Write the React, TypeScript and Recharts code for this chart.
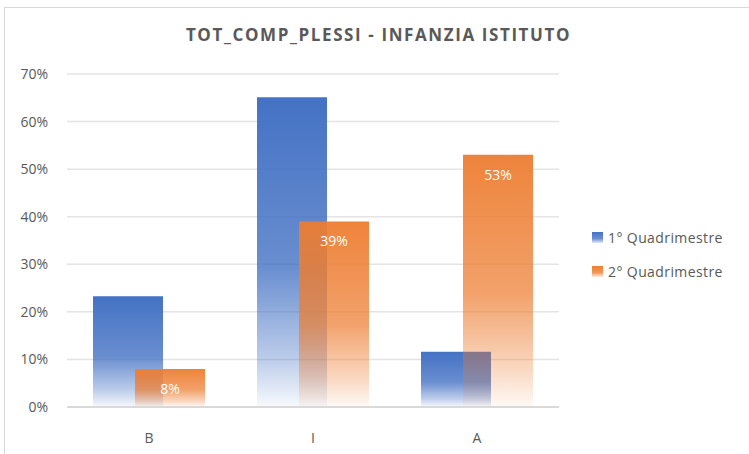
import React from "react";
import { BarChart, Bar, XAxis, YAxis, CartesianGrid, LabelList } from "recharts";

const categories: string[] = ["B", "I", "A"];
const firstQuad: number[] = [0.233, 0.651, 0.116];
const secondQuad: number[] = [0.08, 0.39, 0.53];
const yTicks: number[] = [0, 0.1, 0.2, 0.3, 0.4, 0.5, 0.6, 0.7];

const SERIES = [
  { key: "q1", name: "1° Quadrimestre", color: "#4472C4", grad: "gradBlue" },
  { key: "q2", name: "2° Quadrimestre", color: "#ED7D31", grad: "gradOrange" },
];

const data = categories.map((c, i) => ({ cat: c, q1: firstQuad[i], q2: secondQuad[i] }));

const FONT = "'Open Sans', 'Liberation Sans', sans-serif";
const TEXT = "#595959";

const pct = (v: number) => `${Math.round(v * 100)}%`;

const LegendBox = () => (
  <div style={{ position: "absolute", left: 592, top: 220, fontFamily: FONT, fontSize: 14, color: TEXT, letterSpacing: 0.4 }}>
    {SERIES.map((s) => (
      <div key={s.key} style={{ display: "flex", alignItems: "center", height: 34 }}>
        <svg width={11} height={11} style={{ marginRight: 5 }}>
          <rect width={11} height={11} fill={`url(#${s.grad}Leg)`} />
        </svg>
        <span>{s.name}</span>
      </div>
    ))}
  </div>
);

export default function App() {
  return (
    <div style={{ position: "absolute", left: 0, top: 0, width: 749, height: 454, overflow: "hidden", background: "#fff" }}>
      <div style={{ position: "absolute", left: 4, top: 7, width: 800, height: 500, border: "1.5px solid #D9D9D9" }} />
      <div
        style={{
          position: "absolute", left: 0, top: 23, width: 757, textAlign: "center",
          fontFamily: FONT, fontWeight: 700, fontSize: 17, color: TEXT, letterSpacing: 1.6,
        }}
      >
        TOT_COMP_PLESSI - INFANZIA ISTITUTO
      </div>
      <svg width={0} height={0} style={{ position: "absolute" }}>
        <defs>
          {SERIES.map((s) => (
            <linearGradient key={s.grad} id={`${s.grad}Leg`} x1="0" y1="0" x2="0" y2="1">
              <stop offset="0%" stopColor={s.color} stopOpacity={1} />
              <stop offset="60%" stopColor={s.color} stopOpacity={0.8} />
              <stop offset="100%" stopColor={s.color} stopOpacity={0.15} />
            </linearGradient>
          ))}
        </defs>
      </svg>
      <div style={{ position: "absolute", left: 0, top: 0 }}>
        <BarChart
          width={749}
          height={454}
          data={data}
          margin={{ top: 74, right: 190, left: 17, bottom: 17 }}
          barGap={-28}
          barSize={70}
        >
          <defs>
            <linearGradient id="gradBlue" x1="0" y1="0" x2="0" y2="1">
              <stop offset="0%" stopColor="#4472C4" stopOpacity={1} />
              <stop offset="55%" stopColor="#4472C4" stopOpacity={0.8} />
              <stop offset="85%" stopColor="#4472C4" stopOpacity={0.35} />
              <stop offset="100%" stopColor="#4472C4" stopOpacity={0.04} />
            </linearGradient>
            <linearGradient id="gradOrange" x1="0" y1="0" x2="0" y2="1">
              <stop offset="0%" stopColor="#ED7D31" stopOpacity={0.95} />
              <stop offset="55%" stopColor="#ED7D31" stopOpacity={0.72} />
              <stop offset="85%" stopColor="#ED7D31" stopOpacity={0.3} />
              <stop offset="100%" stopColor="#ED7D31" stopOpacity={0.04} />
            </linearGradient>
          </defs>
          <CartesianGrid vertical={false} stroke="#E4E4E4" strokeWidth={1.5} />
          <XAxis
            dataKey="cat"
            axisLine={{ stroke: "#D9D9D9", strokeWidth: 2 }}
            tickLine={false}
            tick={{ fill: TEXT, fontSize: 14, fontFamily: FONT }}
            tickMargin={20}
            height={30}
          />
          <YAxis
            domain={[0, 0.7]}
            ticks={yTicks}
            tickFormatter={pct}
            axisLine={false}
            tickLine={false}
            tickSize={0}
            tickMargin={19}
            width={50}
            tick={{ fill: TEXT, fontSize: 14, fontFamily: FONT }}
          />
          <Bar dataKey="q1" name={SERIES[0].name} fill="url(#gradBlue)" isAnimationActive={false} />
          <Bar dataKey="q2" name={SERIES[1].name} fill="url(#gradOrange)" isAnimationActive={false}>
            <LabelList
              dataKey="q2"
              position="insideTop"
              offset={15}
              formatter={(v: number) => pct(v)}
              style={{ fill: "#FFFFFF", fontSize: 14, fontFamily: FONT }}
            />
          </Bar>
        </BarChart>
      </div>
      <LegendBox />
    </div>
  );
}
